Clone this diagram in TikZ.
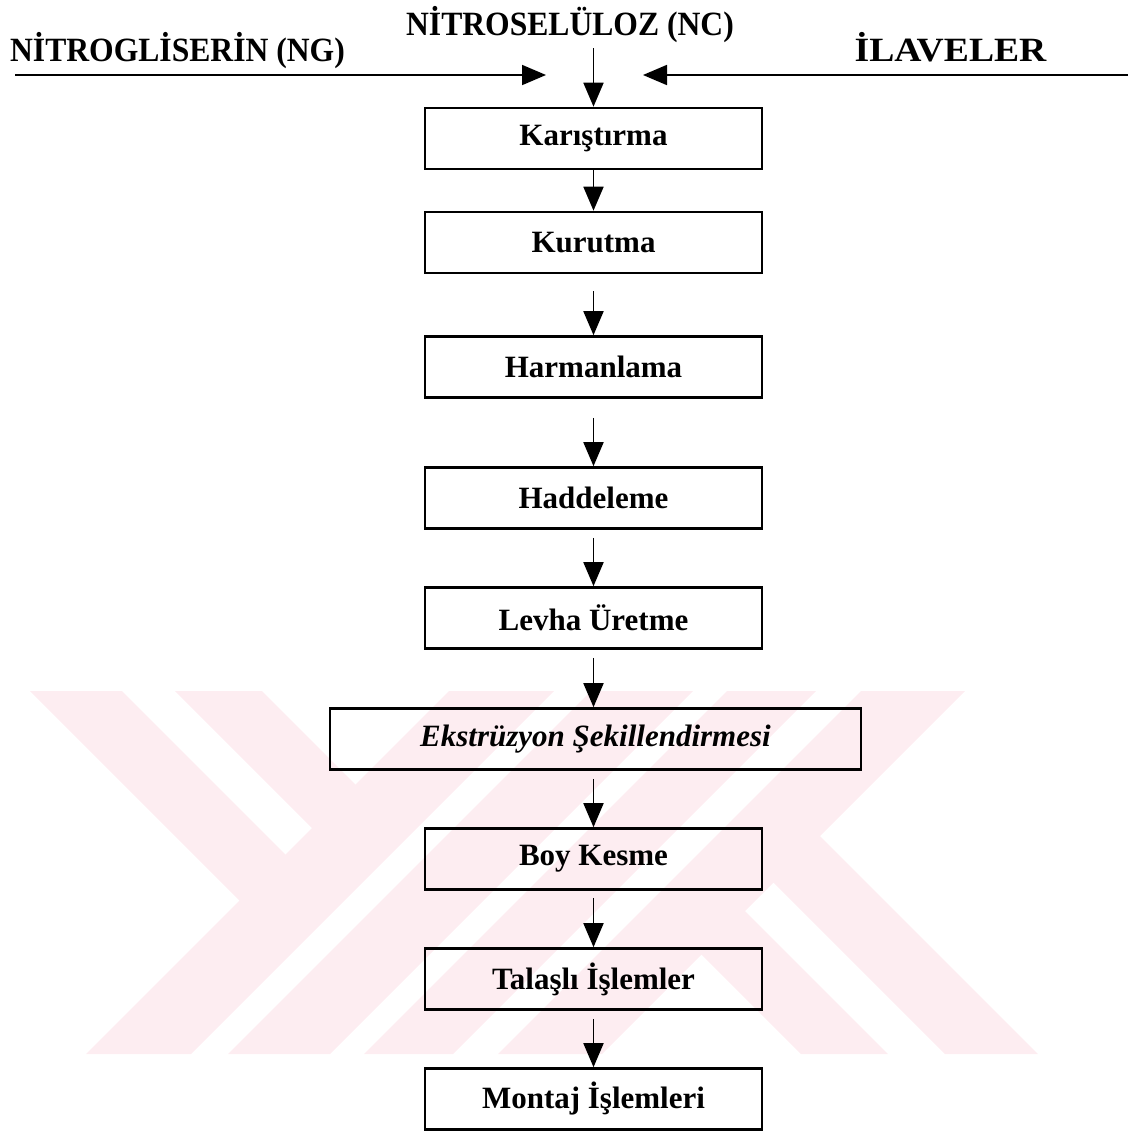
\documentclass[tikz,border=0pt]{standalone}
\usepackage{fontspec}
\setmainfont{Liberation Serif}
\newfontfamily\hdrfont[FakeStretch=0.93]{Liberation Serif}
\usetikzlibrary{arrows.meta}
\definecolor{wmpink}{RGB}{253,237,241}
\tikzset{
  stepbox/.style={draw=black, line width=2.6pt, minimum height=61pt, inner sep=0pt,
    font=\fontsize{31}{37}\selectfont\bfseries},
  flow/.style={line width=1.8pt, -{Triangle[length=24pt,width=20pt]}},
  hdr/.style={font=\hdrfont\fontsize{34}{40}\selectfont\bfseries, inner sep=0pt, anchor=base},
  wm/.style={fill=wmpink, draw=none}
}
\begin{document}
\begin{tikzpicture}[x=1pt,y=-1pt]
\useasboundingbox (0,0) rectangle (1128,1133);
% watermark
\fill[wm] (449,691) -- (554,691) -- (191,1054) -- (86,1054) -- cycle;
\fill[wm] (591,691) -- (693,691) -- (330,1054) -- (228,1054) -- cycle;
\fill[wm] (727,691) -- (816,691) -- (453,1054) -- (364,1054) -- cycle;
\fill[wm] (861,691) -- (965,691) -- (602,1054) -- (498,1054) -- cycle;
\fill[wm] (30,691) -- (122,691) -- (310.5,879.5) -- (264.5,925.5) -- cycle;
\fill[wm] (175,691) -- (262,691) -- (380.5,809.5) -- (337,853) -- cycle;
\fill[wm] (678.5,931.5) -- (722,888) -- (888,1054) -- (801,1054) -- cycle;
\fill[wm] (750.5,859.5) -- (797,813) -- (1038,1054) -- (945,1054) -- cycle;
% headers
\node[hdr] (ng) at (177.5,61) {NİTROGLİSERİN (NG)};
\node[hdr] (nc) at (570,35) {NİTROSELÜLOZ (NC)};
\node[hdr] (il) at (950.5,61) {\scalebox{1.19}[1]{İLAVELER}};
% boxes
\node[stepbox, minimum width=337pt] (k)  at (593.5,138.5) {Karıştırma};
\node[stepbox, minimum width=337pt] (ku) at (593.5,242.5) {Kurutma};
\node[stepbox, minimum width=337pt] (ha) at (593.5,367) {Harmanlama};
\node[stepbox, minimum width=337pt] (hd) at (593.5,498) {Haddeleme};
\node[stepbox, minimum width=337pt] (lv) at (593.5,618) {Levha Üretme};
\node[stepbox, minimum width=531pt, font=\fontsize{31}{37}\selectfont\bfseries\itshape] (ek) at (595.5,739) {Ekstrüzyon Şekillendirmesi};
\node[stepbox, minimum width=337pt] (bk) at (593.5,859) {Boy Kesme};
\node[stepbox, minimum width=337pt] (ti) at (593.5,979) {Talaşlı İşlemler};
\node[stepbox, minimum width=337pt] (mi) at (593.5,1099) {Montaj İşlemleri};
% input arrows
\coordinate (ncs) at (593.5,48);
\coordinate (ngs) at (15,75);
\coordinate (ngt) at (546,75);
\coordinate (ils) at (1128,75);
\coordinate (ilt) at (643,75);
\draw[flow] (ncs) -- (k.north);
\draw[flow] (ngs) -- (ngt);
\draw[flow] (ils) -- (ilt);
% flow arrows
\draw[flow] (k.south) -- (ku.north);
\draw[flow, shorten <=17pt] (ku.south) -- (ha.north);
\draw[flow, shorten <=19pt] (ha.south) -- (hd.north);
\draw[flow, shorten <=8pt] (hd.south) -- (lv.north);
\draw[flow, shorten <=8pt] (lv.south) -- (lv.south |- ek.north);
\draw[flow, shorten <=8pt] (bk.north |- ek.south) -- (bk.north);
\draw[flow, shorten <=7pt] (bk.south) -- (ti.north);
\draw[flow, shorten <=8pt] (ti.south) -- (mi.north);
\end{tikzpicture}
\end{document}
